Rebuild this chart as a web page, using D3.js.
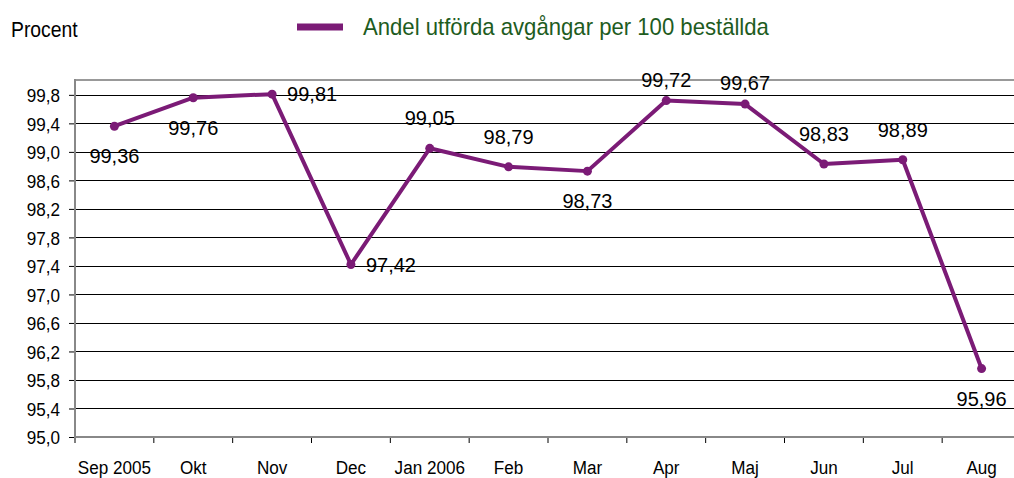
<!DOCTYPE html>
<html>
<head>
<meta charset="utf-8">
<script src="https://cdn.jsdelivr.net/npm/d3@7"></script>
<style>
  body { margin: 0; background: #fff; }
  svg { display: block; }
</style>
</head>
<body>
<div class="chart"></div>
<script>
// Data
var months = ["Sep 2005", "Okt", "Nov", "Dec", "Jan 2006", "Feb", "Mar", "Apr", "Maj", "Jun", "Jul", "Aug"];
var values = [99.36, 99.76, 99.81, 97.42, 99.05, 98.79, 98.73, 99.72, 99.67, 98.83, 98.89, 95.96];
var yTicks = [95.0, 95.4, 95.8, 96.2, 96.6, 97.0, 97.4, 97.8, 98.2, 98.6, 99.0, 99.4, 99.8];
var seriesName = "Andel utförda avgångar per 100 beställda";

// where each value label sits relative to its point
var labelPlace = ["below", "below", "right", "right", "above", "above", "below", "above", "above", "above", "above", "below"];

// Configuration
var width = 1014;
var height = 478;
var margin = {left: 75, top: 80, right: -7, bottom: 41};
var purple = "#7b1b76";
var font = "'Liberation Sans', Arial, sans-serif";
var squeeze = 0.9;   // the original axis font is a narrow face

var fmt = function(v, n) { return v.toFixed(n).replace(".", ","); };

var svg = d3.select(".chart").append("svg")
    .attr("width", width)
    .attr("height", height);

var x = d3.scaleBand()
    .domain(months)
    .range([margin.left, width - margin.right]);

var y = d3.scaleLinear()
    .domain([95, 100])
    .range([height - margin.bottom, margin.top + 0.6]);

// horizontal grid lines
svg.append("g")
  .selectAll("line")
  .data(yTicks.slice(1))
  .enter().append("line")
    .attr("x1", margin.left)
    .attr("x2", width)
    .attr("y1", function(d) { return Math.round(y(d)) + 0.5; })
    .attr("y2", function(d) { return Math.round(y(d)) + 0.5; })
    .attr("stroke", "#000")
    .attr("stroke-width", 1);

// top border
svg.append("line")
    .attr("x1", margin.left).attr("x2", width)
    .attr("y1", margin.top).attr("y2", margin.top)
    .attr("stroke", "#999").attr("stroke-width", 2);

// y axis
var yAxis = svg.append("g")
    .attr("transform", "translate(" + margin.left + ",0)")
    .call(d3.axisLeft(y).tickValues(yTicks).tickSize(6)
      .tickFormat(function(d) { return fmt(d, 1); }));
yAxis.select(".domain").remove();
yAxis.selectAll(".tick line").attr("stroke", "#000");
yAxis.selectAll("text")
    .attr("x", 0)
    .attr("dy", "0.36em")
    .attr("transform", "translate(-15,0) scale(" + squeeze + ",1)")
    .attr("font-family", font)
    .attr("font-size", 19)
    .attr("fill", "#000");

// x axis, ticks on the category boundaries
var xAxis = svg.append("g")
    .attr("transform", "translate(0," + (height - margin.bottom) + ")")
    .call(d3.axisBottom(x).tickSize(0));
xAxis.select(".domain").remove();
xAxis.selectAll("text")
    .attr("y", 0)
    .attr("dy", 0)
    .attr("transform", "translate(0,37) scale(" + squeeze + ",1)")
    .attr("font-family", font)
    .attr("font-size", 19)
    .attr("fill", "#000");
xAxis.selectAll(".boundary")
  .data(months)
  .enter().append("line")
    .attr("x1", function(d) { return x(d); })
    .attr("x2", function(d) { return x(d); })
    .attr("y1", 0)
    .attr("y2", 6)
    .attr("stroke", "#000");

// axis lines
svg.append("line")
    .attr("x1", margin.left).attr("x2", margin.left)
    .attr("y1", margin.top - 1).attr("y2", height - margin.bottom + 1)
    .attr("stroke", "#888").attr("stroke-width", 2);
svg.append("line")
    .attr("x1", margin.left).attr("x2", width)
    .attr("y1", height - margin.bottom).attr("y2", height - margin.bottom)
    .attr("stroke", "#888").attr("stroke-width", 2);

var cx = function(d, i) { return x(months[i]) + x.bandwidth() / 2; };

// series line
var line = d3.line()
    .x(cx)
    .y(function(d) { return y(d); });

svg.append("path")
    .datum(values)
    .attr("d", line)
    .attr("fill", "none")
    .attr("stroke", purple)
    .attr("stroke-width", 4)
    .attr("stroke-linejoin", "round");

svg.selectAll("circle")
    .data(values)
    .enter().append("circle")
    .attr("cx", cx)
    .attr("cy", function(d) { return y(d); })
    .attr("r", 4.5)
    .attr("fill", purple);

// value labels
svg.selectAll(".vlabel")
    .data(values)
    .enter().append("text")
    .attr("class", "vlabel")
    .attr("x", function(d, i) {
      return labelPlace[i] === "right" ? cx(d, i) + 15 : cx(d, i);
    })
    .attr("y", function(d, i) {
      var p = labelPlace[i];
      if (p === "above") return y(d) - (i === 7 || i === 8 ? 14 : 23);
      if (p === "below") return y(d) + 37;
      return y(d) + 7;
    })
    .attr("text-anchor", function(d, i) { return labelPlace[i] === "right" ? "start" : "middle"; })
    .attr("font-family", font)
    .attr("font-size", 20)
    .attr("fill", "#000")
    .text(function(d) { return fmt(d, 2); });

// y title
svg.append("text")
    .attr("transform", "translate(11,37) scale(0.88,1)")
    .attr("font-family", font)
    .attr("font-size", 22)
    .attr("fill", "#000")
    .text("Procent");

// legend
svg.append("line")
    .attr("x1", 297).attr("x2", 343)
    .attr("y1", 27).attr("y2", 27)
    .attr("stroke", purple)
    .attr("stroke-width", 7);
svg.append("text")
    .attr("transform", "translate(363,35) scale(0.922,1)")
    .attr("font-family", font)
    .attr("font-size", 24)
    .attr("fill", "#1e5c1e")
    .text(seriesName);
</script>
</body>
</html>
